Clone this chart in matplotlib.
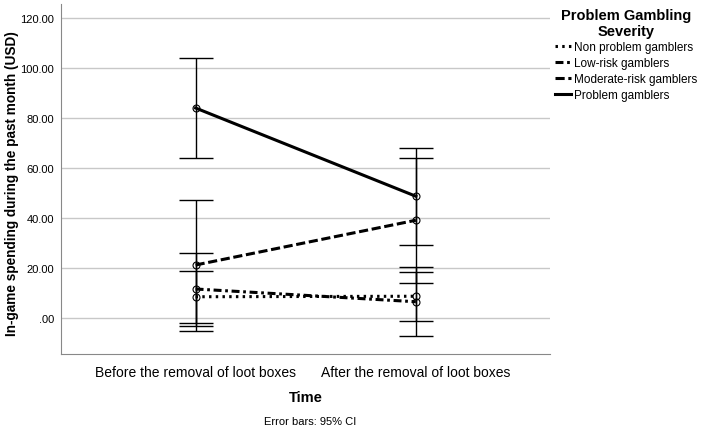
import numpy as np
import matplotlib.pyplot as plt
from matplotlib.ticker import FuncFormatter

plt.rcParams['font.family'] = ['Liberation Sans', 'DejaVu Sans']

time_labels = ["Before the removal of loot boxes", "After the removal of loot boxes"]
groups = ["Non problem gamblers", "Low-risk gamblers", "Moderate-risk gamblers", "Problem gamblers"]
means = [
    [8.4, 8.6],
    [11.5, 6.4],
    [21.1, 39.0],
    [83.9, 48.6],
]
ci_low = [
    [-1.9, -1.3],
    [-3.4, -7.4],
    [-5.2, 14.0],
    [63.9, 29.2],
]
ci_high = [
    [18.6, 18.3],
    [25.8, 20.4],
    [47.1, 63.8],
    [103.9, 67.9],
]
styles = [(0, (0.8, 1.4)), (0, (2.6, 1.2, 0.9, 1.2)), (0, (3, 1.2)), "-"]

fig = plt.figure(figsize=(7.01, 4.31), dpi=100)
ax = fig.add_axes([61 / 701, 1 - 355 / 431, 489 / 701, 350 / 431])

x = np.arange(len(time_labels))
handles = []
for name, m, lo, hi, ls in zip(groups, means, ci_low, ci_high, styles):
    m = np.array(m)
    yerr = [m - np.array(lo), np.array(hi) - m]
    ax.errorbar(x, m, yerr=yerr, fmt="none", ecolor="black", elinewidth=1,
                capsize=12, capthick=1, zorder=3)
    h, = ax.plot(x, m, color="black", linestyle=ls, linewidth=2.2, zorder=4, label=name)
    ax.plot(x, m, "o", markersize=5, markerfacecolor="none", markeredgecolor="black",
            markeredgewidth=0.8, zorder=5)
    handles.append(h)

ax.set_xlim(-0.611, 1.609)
ax.set_ylim(-14.5, 125.5)
ax.set_yticks(np.arange(0, 121, 20))
ax.yaxis.set_major_formatter(FuncFormatter(lambda v, p: ".00" if v == 0 else f"{v:.2f}"))
ax.set_xticks(x)
ax.set_xticklabels(time_labels, fontsize=10)
ax.tick_params(axis="y", labelsize=8, length=0, pad=5)
ax.tick_params(axis="x", length=0, pad=8)
ax.grid(axis="y", color="#c8c8c8", linewidth=1)
ax.set_axisbelow(True)
for s in ["top", "right"]:
    ax.spines[s].set_visible(False)
ax.spines["left"].set_color("#888888")
ax.spines["bottom"].set_color("#888888")

ax.set_ylabel("In-game spending during the past month (USD)", fontsize=9.8, fontweight="bold")
ax.yaxis.set_label_coords(-42 / 489, 0.49)
ax.set_xlabel("Time", fontsize=10.5, fontweight="bold", labelpad=8)

fig.text(310 / 701, 1 - 422 / 431, "Error bars: 95% CI", fontsize=8, ha="center", va="center")

leg = fig.legend(handles=handles, loc="upper left", bbox_to_anchor=(550 / 701, 1 - 4 / 431),
                 title="Problem Gambling\nSeverity", frameon=False, fontsize=8.5,
                 handlelength=1.4, handletextpad=0.2, labelspacing=0.36, borderaxespad=0)
leg.get_title().set_fontweight("bold")
leg.get_title().set_fontsize(10.5)
leg.get_title().set_multialignment("center")
leg._legend_box.sep = 2

fig.savefig("out.png", dpi=100)
